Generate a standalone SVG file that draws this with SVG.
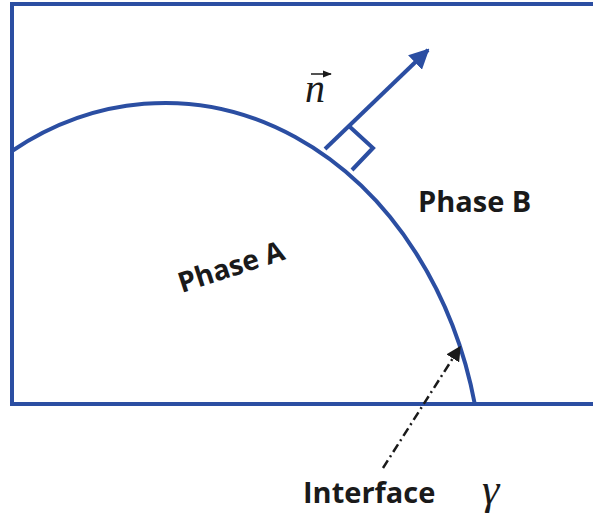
<svg xmlns="http://www.w3.org/2000/svg" width="593" height="529" viewBox="0 0 593 529">
  <style>
    .blue { fill: none; stroke: #2B4EA2; stroke-width: 4; }
    .lbl { font-family: "Open Sans", "Liberation Sans", sans-serif; font-weight: 700; fill: #1a1a1a; }
    .math { font-family: "Liberation Serif", "DejaVu Serif", serif; font-style: italic; fill: #1a1a1a; }
  </style>
  <defs>
    <marker id="blueHead" viewBox="0 0 10 10" refX="9" refY="5" markerWidth="5" markerHeight="5" orient="auto" markerUnits="strokeWidth">
      <path d="M0,0 L10,5 L0,10 z" fill="#2B4EA2"/>
    </marker>
    <marker id="blackHead" viewBox="0 0 10 10" refX="9" refY="5" markerWidth="6" markerHeight="6" orient="auto" markerUnits="strokeWidth">
      <path d="M0,0 L10,5 L0,10 z" fill="#1a1a1a"/>
    </marker>
    <marker id="vecHead" viewBox="0 0 10 10" refX="9" refY="5" markerWidth="6" markerHeight="6" orient="auto" markerUnits="strokeWidth">
      <path d="M0,1 L10,5 L0,9 z" fill="#1a1a1a"/>
    </marker>
  </defs>

  <g id="domain">
    <path class="blue" d="M593,4 L12,4 L12,404 L593,404"/>
  </g>

  <g id="interface">
    <path class="blue" d="M12,151 A318,389 0 0 1 475,405"/>
  </g>

  <g id="connectors">
    <line id="normal" class="blue" x1="325" y1="149" x2="428" y2="50" marker-end="url(#blueHead)"/>
    <path id="right-angle" class="blue" d="M350,127 L373,148 L352,170"/>
    <line id="interface-pointer" x1="383" y1="468" x2="460" y2="347" stroke="#1a1a1a" stroke-width="2.5" stroke-dasharray="9 4 2 4" marker-end="url(#blackHead)"/>
  </g>

  <g id="normal-label">
    <text class="math" x="305" y="102" font-size="40">n</text>
    <line x1="311" y1="74" x2="331" y2="74" stroke="#1a1a1a" stroke-width="1.5" marker-end="url(#vecHead)"/>
  </g>

  <g id="phase-a">
    <text class="lbl" x="234" y="276" font-size="28" text-anchor="middle" transform="rotate(-18 234 276)">Phase A</text>
  </g>

  <g id="phase-b">
    <text class="lbl" x="418" y="212" font-size="29">Phase B</text>
  </g>

  <g id="interface-label">
    <text class="lbl" x="303" y="503" font-size="29">Interface</text>
    <text class="math" x="482" y="504" font-size="44">γ</text>
  </g>
</svg>
